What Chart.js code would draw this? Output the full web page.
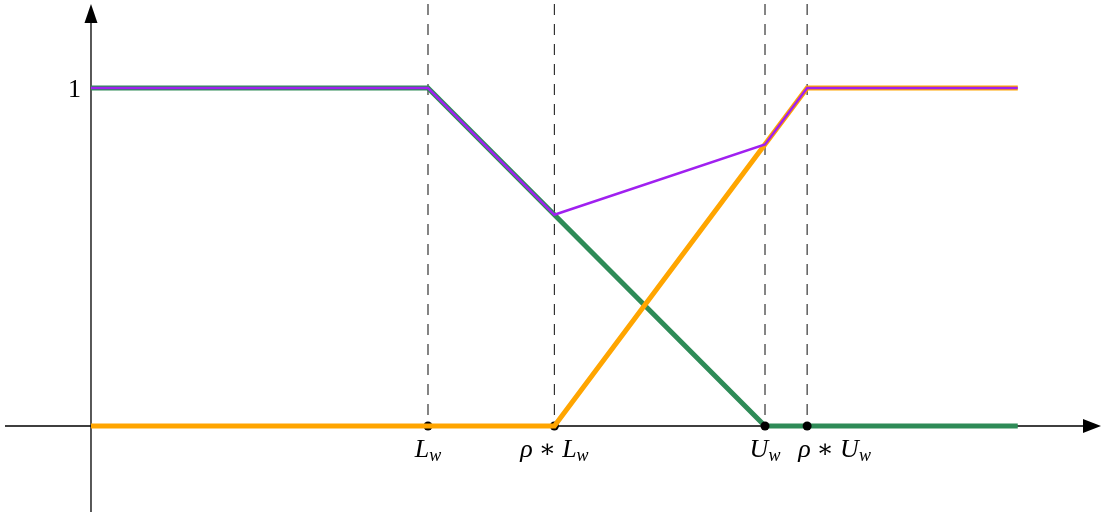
<!DOCTYPE html>
<html>
<head>
<meta charset="utf-8">
<title>Thresholds</title>
<script src="https://cdn.jsdelivr.net/npm/chart.js@4"></script>
<style>
  html, body { margin: 0; padding: 0; background: #fff; }
  #wrap { width: 1101px; height: 512px; }
</style>
</head>
<body>
<div id="wrap"><canvas id="chart"></canvas></div>
<script>
// ----- Data -----
// x positions of the marked thresholds and their labels
const tickX = [4, 5.5, 8, 8.5];
const tickLabels = [
    [['L', 'i'], ['w', 's']],
    [['ρ', 'i'], [' ∗ ', 'r'], ['L', 'i'], ['w', 's']],
    [['U', 'i'], ['w', 's']],
    [['ρ', 'i'], [' ∗ ', 'r'], ['U', 'i'], ['w', 's']]
];
const labelAlign = ['center', 'center', 'center', 'left'];

// green: falls from 1 to 0 between L_w and U_w
const greenX = [0, 4, 8, 11];
const greenY = [1, 1, 0, 0];

// orange: rises from 0 to 1 between rho*L_w and rho*U_w
const orangeX = [0, 5.5, 8.5, 11];
const orangeY = [0, 0, 1, 1];

// purple: upper envelope
const purpleX = [0, 4, 5.5, 8, 8.5, 11];
const purpleY = [1, 1, 0.625, 0.833, 1, 1];

// axis ranges
const xMin = -1.08, xMax = 11.988;
const yMin = -0.2544, yMax = 1.2604;

function pts(xs, ys) {
    return xs.map(function (x, i) { return { x: x, y: ys[i] }; });
}

// ----- Math-ish text helper -----
const fonts = {
    i: 'italic 26px "Liberation Serif", "DejaVu Serif", serif',
    r: '25px "Liberation Serif", "DejaVu Serif", serif',
    s: 'italic 18px "Liberation Serif", "DejaVu Serif", serif'
};
function drawMath(ctx, parts, x, baseline, align) {
    let total = 0;
    parts.forEach(function (p) {
        ctx.font = fonts[p[1]];
        total += ctx.measureText(p[0]).width;
    });
    let cx = align === 'left' ? x - 9 : x - total / 2;
    parts.forEach(function (p) {
        ctx.font = fonts[p[1]];
        ctx.fillText(p[0], cx, baseline + (p[1] === 's' ? 4 : 0));
        cx += ctx.measureText(p[0]).width;
    });
}

// ----- Axes with arrow heads, drawn under the curves -----
const axesPlugin = {
    id: 'axes',
    beforeDatasetsDraw: function (chart) {
        const ctx = chart.ctx;
        const xs = chart.scales.x, ys = chart.scales.y;
        const x0 = xs.getPixelForValue(0), y0 = ys.getPixelForValue(0);
        const left = xs.getPixelForValue(xMin), right = xs.getPixelForValue(xMax);
        const top = ys.getPixelForValue(yMax), bottom = ys.getPixelForValue(yMin);
        ctx.save();
        ctx.strokeStyle = '#000';
        ctx.fillStyle = '#000';
        ctx.lineWidth = 1.3;
        ctx.beginPath();
        ctx.moveTo(left + 5, y0);
        ctx.lineTo(right - 10, y0);
        ctx.moveTo(x0, bottom);
        ctx.lineTo(x0, top + 12);
        ctx.stroke();
        // x arrow
        ctx.beginPath();
        ctx.moveTo(right, y0);
        ctx.lineTo(right - 18, y0 - 7);
        ctx.lineTo(right - 18, y0 + 7);
        ctx.closePath();
        ctx.fill();
        // y arrow
        ctx.beginPath();
        ctx.moveTo(x0, top + 4);
        ctx.lineTo(x0 - 6.5, top + 23);
        ctx.lineTo(x0 + 6.5, top + 23);
        ctx.closePath();
        ctx.fill();
        ctx.restore();
    },
    afterDraw: function (chart) {
        const ctx = chart.ctx;
        const xs = chart.scales.x, ys = chart.scales.y;
        ctx.save();
        ctx.fillStyle = '#000';
        ctx.textBaseline = 'alphabetic';
        tickX.forEach(function (t, i) {
            drawMath(ctx, tickLabels[i], xs.getPixelForValue(t), ys.getPixelForValue(0) + 31, labelAlign[i]);
        });
        ctx.font = '26px "Liberation Serif", "DejaVu Serif", serif';
        ctx.textAlign = 'right';
        ctx.fillText('1', xs.getPixelForValue(0) - 10, ys.getPixelForValue(1) + 9);
        ctx.restore();
    }
};

// dashed vertical guides from the top of the plot down to the x axis
const guideSets = tickX.map(function (t) {
    return {
        data: [{ x: t, y: yMax }, { x: t, y: 0 }],
        showLine: true,
        borderColor: '#222',
        borderWidth: 1.1,
        borderDash: [11, 9],
        borderDashOffset: -4,
        pointRadius: 0,
        order: 5
    };
});

new Chart(document.getElementById('chart'), {
    type: 'scatter',
    data: {
        datasets: guideSets.concat([
            {
                data: pts(greenX, greenY),
                showLine: true,
                borderColor: '#2E8B57',
                borderWidth: 5,
                pointRadius: 0,
                order: 4
            },
            {
                data: tickX.map(function (t) { return { x: t, y: 0 }; }),
                showLine: false,
                backgroundColor: '#000',
                borderWidth: 0,
                pointRadius: 4.5,
                order: 3
            },
            {
                data: pts(orangeX, orangeY),
                showLine: true,
                borderColor: '#FFA500',
                borderWidth: 5,
                pointRadius: 0,
                order: 2
            },
            {
                data: pts(purpleX, purpleY),
                showLine: true,
                borderColor: '#A020F0',
                borderWidth: 2.5,
                pointRadius: 0,
                order: 1
            }
        ])
    },
    options: {
        responsive: true,
        maintainAspectRatio: false,
        animation: false,
        layout: { padding: 0, autoPadding: false },
        plugins: {
            legend: { display: false },
            tooltip: { enabled: false }
        },
        scales: {
            x: { type: 'linear', min: xMin, max: xMax, display: false },
            y: { type: 'linear', min: yMin, max: yMax, display: false }
        }
    },
    plugins: [axesPlugin]
});
</script>
</body>
</html>
